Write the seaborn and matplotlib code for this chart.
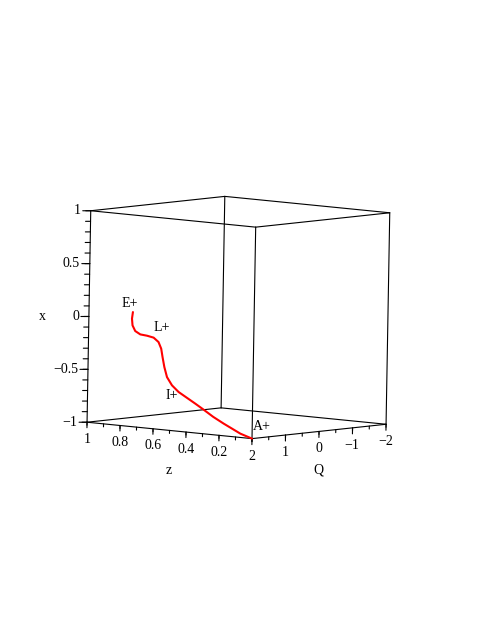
import itertools
import numpy as np
import matplotlib
matplotlib.use("Agg")
import matplotlib.pyplot as plt
import seaborn as sns
from mpl_toolkits.mplot3d import proj3d

sns.set_theme(style="white")
plt.rcParams["font.family"] = ["Liberation Serif", "DejaVu Serif"]
fontsize = 10

# trajectory, from A+ to E+ (z, Q, x)
traj_z = [0.0, 0.071, 0.120, 0.173, 0.237, 0.296, 0.347, 0.398, 0.449, 0.490, 0.521,
          0.538, 0.550, 0.559, 0.576, 0.606, 0.646, 0.687, 0.718, 0.735, 0.739, 0.734]
traj_x = [-1.0, -0.964, -0.926, -0.885, -0.831, -0.772, -0.723, -0.676, -0.629, -0.572, -0.499,
          -0.407, -0.314, -0.236, -0.176, -0.139, -0.127, -0.121, -0.094, -0.043, 0.020, 0.083]
traj_q = [2.0] * len(traj_z)

# point labels
point_names = ["A+", "I+", "L+", "E+"]
point_z = [-0.059, 0.492, 0.559, 0.755]
point_x = [-0.875, -0.665, -0.039, 0.165]
point_q = [2.0, 2.0, 2.0, 2.0]

# axes
x_ticks = [-1, -0.5, 0, 0.5, 1]
x_ticklabels = ["\u22121", "\u22120.5", "0", "0.5", "1"]
z_ticks = [0.2, 0.4, 0.6, 0.8, 1]
z_ticklabels = ["0.2", "0.4", "0.6", "0.8", "1"]
q_ticks = [2, 1, 0, -1, -2]
q_ticklabels = ["2", "1", "0", "\u22121", "\u22122"]
z_lim, q_lim, x_lim = (0, 1), (-2, 2), (-1, 1)

fig = plt.figure(figsize=(4.91, 6.35), dpi=100)
side = 491 / 635
ax = fig.add_axes([0, (1 - side) / 2, 1, side], projection="3d", proj_type="ortho")
ax.set_xlim(*z_lim)
ax.set_ylim(*q_lim)
ax.set_zlim(*x_lim)
ax.view_init(elev=5.8, azim=129, roll=-1.0)
zoom = 1.0
ax.set_box_aspect((1, 1, 1), zoom=zoom)
ax.set_axis_off()
ax.computed_zorder = False

# screen directions in data units per pixel (cube side ~212 px)
LEFT = np.array([0.00309, 0.01464, 0.0])
DOWN = np.array([0.0, 0.0, -0.00947])

texts = []  # (3d point, string, ha), placed once the view is fixed


def seg(p, d, n, **kw):
    p = np.asarray(p, float)
    q = p + d * n
    ax.plot([p[0], q[0]], [p[1], q[1]], [p[2], q[2]], **kw)


def label(p, d, n, s, ha="center"):
    texts.append((np.asarray(p, float) + d * n, s, ha))


# bounding box
corners = list(itertools.product(z_lim, q_lim, x_lim))
for a, b in itertools.combinations(corners, 2):
    if sum(u != v for u, v in zip(a, b)) == 1:
        ax.plot(*zip(a, b), color="black", lw=0.8, zorder=1)

tick_kw = dict(color="black", lw=0.8, zorder=1)
# x axis, left vertical edge
for v in np.linspace(-1, 1, 21):
    seg((1, 2, v), LEFT, 5, **tick_kw)
for v, s in zip(x_ticks, x_ticklabels):
    seg((1, 2, v), LEFT, 8, **tick_kw)
    label((1, 2, v), LEFT, 10, s, ha="right")
label((1, 2, 0), LEFT, 47, "x")

# z axis, front-left bottom edge
for v in np.linspace(0, 1, 11):
    seg((v, 2, -1), DOWN, 3, **tick_kw)
for v, s in zip(z_ticks, z_ticklabels):
    seg((v, 2, -1), DOWN, 5.5, **tick_kw)
    label((v, 2, -1), DOWN, 17, s)
label((0.5, 2, -1), DOWN, 40, "z")

# Q axis, front-right bottom edge
for v in np.linspace(-2, 2, 9):
    seg((0, v, -1), DOWN, 3, **tick_kw)
for v, s in zip(q_ticks, q_ticklabels):
    seg((0, v, -1), DOWN, 6, **tick_kw)
    label((0, v, -1), DOWN, 17.5, s)
label((0, 0, -1), DOWN, 39, "Q")

# trajectory and point labels
ax.plot(traj_z, traj_q, traj_x, color="red", lw=1.5, zorder=5)
for s, z, q, x in zip(point_names, point_z, point_q, point_x):
    texts.append((np.array([z, q, x]), s, "center"))


# fit the cube to the page: side ~211 px high, centre at (238, 317) from top-left
def project(pts):
    pts = np.asarray(pts, float)
    px, py, _ = proj3d.proj_transform(pts[:, 0], pts[:, 1], pts[:, 2], ax.get_proj())
    return np.column_stack([px, py])


target_edge = 211.5
target_centre = np.array([238.4, 635 - 317.5])
for _ in range(3):
    fig.canvas.draw()
    c = ax.transData.transform(project(corners))
    edge = np.hypot(*(c[1] - c[0]))
    zoom *= target_edge / edge
    ax.set_box_aspect((1, 1, 1), zoom=zoom)
    fig.canvas.draw()
    c = ax.transData.transform(project(corners))
    shift = target_centre - c.mean(axis=0)
    pos = ax.get_position(original=True)
    ax.set_position([pos.x0 + shift[0] / 491, pos.y0 + shift[1] / 635, pos.width, pos.height])

fig.canvas.draw()
xy = project([t[0] for t in texts])
for (p, s, ha), (px, py) in zip(texts, xy):
    ax.text2D(px, py, s, transform=ax.transData, fontsize=fontsize, color="black",
              ha=ha, va="center", zorder=6)

fig.savefig("out.png", dpi=100)
